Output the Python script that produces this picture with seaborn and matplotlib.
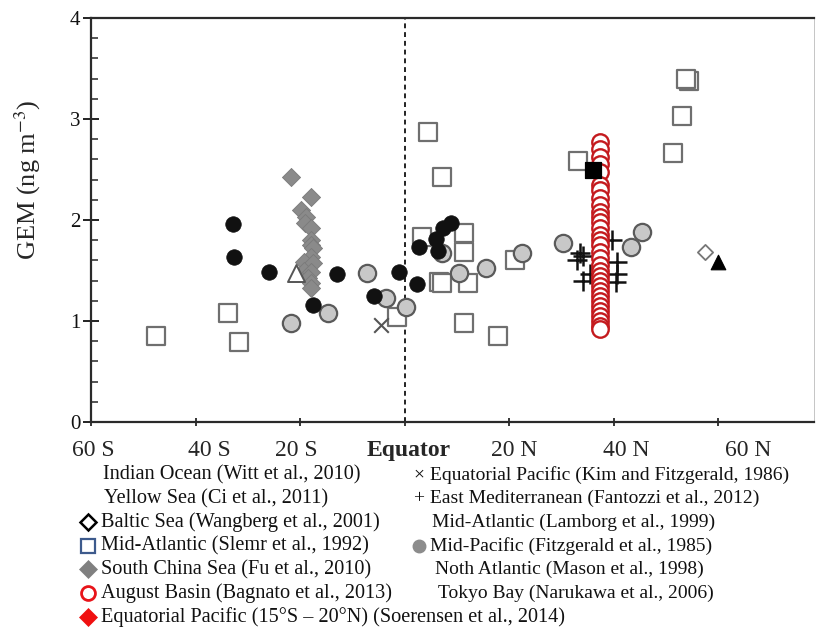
import numpy as np
import matplotlib.pyplot as plt
import matplotlib as mpl
import seaborn as sns
from matplotlib.lines import Line2D

# --- data (latitude in degrees, S negative; GEM in ng m-3) ---
black_lat = [-32.9, -32.7, -26.0, -13.0, -17.6, -5.9, -1.0, 2.3, 2.8, 5.9, 6.3, 7.4, 8.8]
black_gem = [1.96, 1.63, 1.49, 1.47, 1.16, 1.25, 1.49, 1.37, 1.73, 1.81, 1.69, 1.92, 1.97]

square_lat = [-47.6, -33.8, -31.7, -1.4, 4.4, 7.2, 3.4, 11.3, 11.3, 6.5, 7.2, 12.2, 11.3,
              17.9, 21.2, 33.2, 54.4, 53.9, 53.1, 51.4]
square_gem = [0.85, 1.08, 0.79, 1.04, 2.87, 2.43, 1.83, 1.87, 1.68, 1.39, 1.38, 1.38, 0.98,
              0.85, 1.60, 2.58, 3.38, 3.40, 3.03, 2.66]

scs_lat = [-21.8, -18.0, -19.9, -18.9, -19.0, -18.0, -18.0, -18.0, -17.6, -18.0, -19.3,
           -17.6, -19.3, -18.0, -18.4, -18.0, -18.0]
scs_gem = [2.43, 2.23, 2.10, 2.03, 1.97, 1.92, 1.80, 1.75, 1.72, 1.63, 1.58, 1.57, 1.50,
           1.49, 1.43, 1.38, 1.33]

midpac_lat = [-21.8, -14.7, -7.3, -3.6, 0.2, 7.2, 10.3, 15.5, 22.5, 30.2, 43.2, 45.4]
midpac_gem = [0.98, 1.08, 1.48, 1.23, 1.14, 1.67, 1.48, 1.52, 1.67, 1.77, 1.73, 1.88]

plus_lat = [33.5, 34.2, 33.0, 34.2, 35.5, 39.7, 40.7, 40.7, 40.5]
plus_gem = [1.67, 1.64, 1.60, 1.40, 1.47, 1.80, 1.58, 1.47, 1.39]

aug_lat = [37.4] * 32
aug_gem = [2.77, 2.70, 2.62, 2.55, 2.48, 2.35, 2.30, 2.22, 2.15, 2.08, 2.03, 1.98, 1.92,
           1.85, 1.80, 1.75, 1.68, 1.62, 1.55, 1.50, 1.45, 1.40, 1.35, 1.30, 1.25, 1.20,
           1.15, 1.10, 1.05, 1.00, 0.95, 0.92]

cross_lat, cross_gem = [-4.6], [0.96]
tri_open_lat, tri_open_gem = [-20.8], [1.48]
tokyo_lat, tokyo_gem = [36.1], [2.50]
baltic_lat, baltic_gem = [57.5], [1.68]
tri_lat, tri_gem = [60.0], [1.58]

tick_lat = [-60, -40, -20, 0, 20, 40, 60]
tick_label_pos = [-59.6, -37.3, -20.8, 0.7, 21.0, 42.4, 65.7]
tick_labels = ["60 S", "40 S", "20 S", "Equator", "20 N", "40 N", "60 N"]

left_labels = ["Indian Ocean (Witt et al., 2010)",
               "Yellow Sea (Ci et al., 2011)",
               "Baltic Sea (Wangberg et al., 2001)",
               "Mid-Atlantic (Slemr et al., 1992)",
               "South China Sea (Fu et al., 2010)",
               "August Basin (Bagnato et al., 2013)",
               "Equatorial Pacific (15°S – 20°N) (Soerensen et al., 2014)"]
right_labels = ["× Equatorial Pacific (Kim and Fitzgerald, 1986)",
                "+ East Mediterranean (Fantozzi et al., 2012)",
                "Mid-Atlantic (Lamborg et al., 1999)",
                "Mid-Pacific (Fitzgerald et al., 1985)",
                "Noth Atlantic (Mason et al., 1998)",
                "Tokyo Bay (Narukawa et al., 2006)"]

# --- style ---
sns.set_style("ticks")
mpl.rcParams['font.family'] = ['Liberation Serif', 'DejaVu Serif']
mpl.rcParams['mathtext.fontset'] = 'stix'

W, H = 816, 627
fig = plt.figure(figsize=(W / 100, H / 100), dpi=100)
ax = fig.add_axes([91 / W, 1 - 422 / H, (814 - 91) / W, (422 - 18) / H])

ax.axvline(0, color="#222222", lw=1.4, ls=(0, (2.5, 2)), zorder=1)

sns.scatterplot(x=square_lat, y=square_gem, ax=ax, marker="s", s=150, color="white",
                edgecolor="#6f6f6f", linewidth=1.6, zorder=2)
sns.scatterplot(x=midpac_lat, y=midpac_gem, ax=ax, marker="o", s=155, color="#c8c8c8",
                edgecolor="#5a5a5a", linewidth=1.6, zorder=3)
sns.scatterplot(x=black_lat, y=black_gem, ax=ax, marker="o", s=125, color="#111111",
                edgecolor="#111111", linewidth=0.5, zorder=3)
sns.scatterplot(x=scs_lat, y=scs_gem, ax=ax, marker="D", s=85, color="#8a8a8a",
                edgecolor="#7a7a7a", linewidth=0.6, zorder=4)
sns.scatterplot(x=tri_open_lat, y=tri_open_gem, ax=ax, marker="^", s=150, color="white",
                edgecolor="#555555", linewidth=1.4, zorder=4)
sns.scatterplot(x=cross_lat, y=cross_gem, ax=ax, marker="x", s=110, color="#555555",
                linewidth=1.5, zorder=4)
sns.scatterplot(x=plus_lat, y=plus_gem, ax=ax, marker="+", s=200, color="#111111",
                linewidth=1.8, zorder=4)
sns.scatterplot(x=aug_lat, y=aug_gem, ax=ax, marker="o", s=140, color="white",
                edgecolor="#c41a1e", linewidth=1.7, zorder=5)
sns.scatterplot(x=tokyo_lat, y=tokyo_gem, ax=ax, marker="s", s=120, color="#000000",
                edgecolor="#000000", zorder=6)
sns.scatterplot(x=baltic_lat, y=baltic_gem, ax=ax, marker="D", s=60, color="white",
                edgecolor="#777777", linewidth=1.3, zorder=4)
sns.scatterplot(x=tri_lat, y=tri_gem, ax=ax, marker="^", s=110, color="#000000",
                edgecolor="#000000", zorder=4)

ax.set_xlim(-60, 78.3)
ax.set_ylim(0, 4)

# axis frame: left, bottom, top (right is at the crop edge)
for side in ["left", "bottom", "top", "right"]:
    ax.spines[side].set_linewidth(1.6)
    ax.spines[side].set_color("#2a2a2a")
ax.spines["right"].set_linewidth(0.6)
ax.spines["right"].set_color("#bbbbbb")

ax.set_yticks([0, 1, 2, 3, 4])
ax.set_yticks(np.arange(0, 4.01, 0.2), minor=True)
ax.tick_params(axis="y", which="major", direction="inout", length=11, width=1.3,
               labelsize=15, pad=2, colors="#111111")
ax.tick_params(axis="y", which="minor", direction="in", length=5, width=1.1)

# x ticks: marks at latitudes, labels sit a little off them as in the figure
ax.set_xticks(tick_lat, minor=True)
ax.set_xticks(tick_label_pos, tick_labels)
ax.tick_params(axis="x", which="major", length=0, labelsize=17, pad=13)
ax.tick_params(axis="x", which="minor", direction="inout", length=6, width=1.3)
ax.get_xticklabels()[3].set_fontweight("bold")
ax.tick_params(top=False, right=False)

ax.set_ylabel("GEM (ng m$^{-3}$)", fontsize=19)
ax.yaxis.set_label_coords(-0.066, 0.6)

# --- legend under the plot, laid out as text rows ---
def fx(px):
    return px / W

def fy(py):
    return 1 - py / H

rows = [475 + 23.6 * i for i in range(7)]
left_x = [103, 104, 101, 101, 101, 101, 101]
for lab, x, y in zip(left_labels, left_x, rows):
    fig.text(fx(x), fy(y), lab, fontsize=14.6, va="center", ha="left", color="#111111")

left_markers = [None, None,
                dict(marker="D", ms=8, mfc="white", mec="black", mew=1.8),
                dict(marker="s", ms=10, mfc="white", mec="#3d5a8c", mew=1.6),
                dict(marker="D", ms=9, mfc="#808080", mec="#808080", mew=0.5),
                dict(marker="o", ms=10, mfc="white", mec="#e8141a", mew=2),
                dict(marker="D", ms=9, mfc="#f01010", mec="#f01010", mew=0.5)]
for m, y in zip(left_markers, rows):
    if m is not None:
        fig.add_artist(Line2D([fx(88)], [fy(y)], transform=fig.transFigure, ls="none", **m))

right_x = [414, 414, 432, 430, 435, 438]
for lab, x, y in zip(right_labels, right_x, rows):
    fig.text(fx(x), fy(y), lab, fontsize=14.0, va="center", ha="left", color="#111111")
fig.add_artist(Line2D([fx(419)], [fy(rows[3])], transform=fig.transFigure, ls="none",
                      marker="o", ms=9, mfc="#8c8c8c", mec="#8c8c8c"))

plt.savefig("out.png", dpi=100)
